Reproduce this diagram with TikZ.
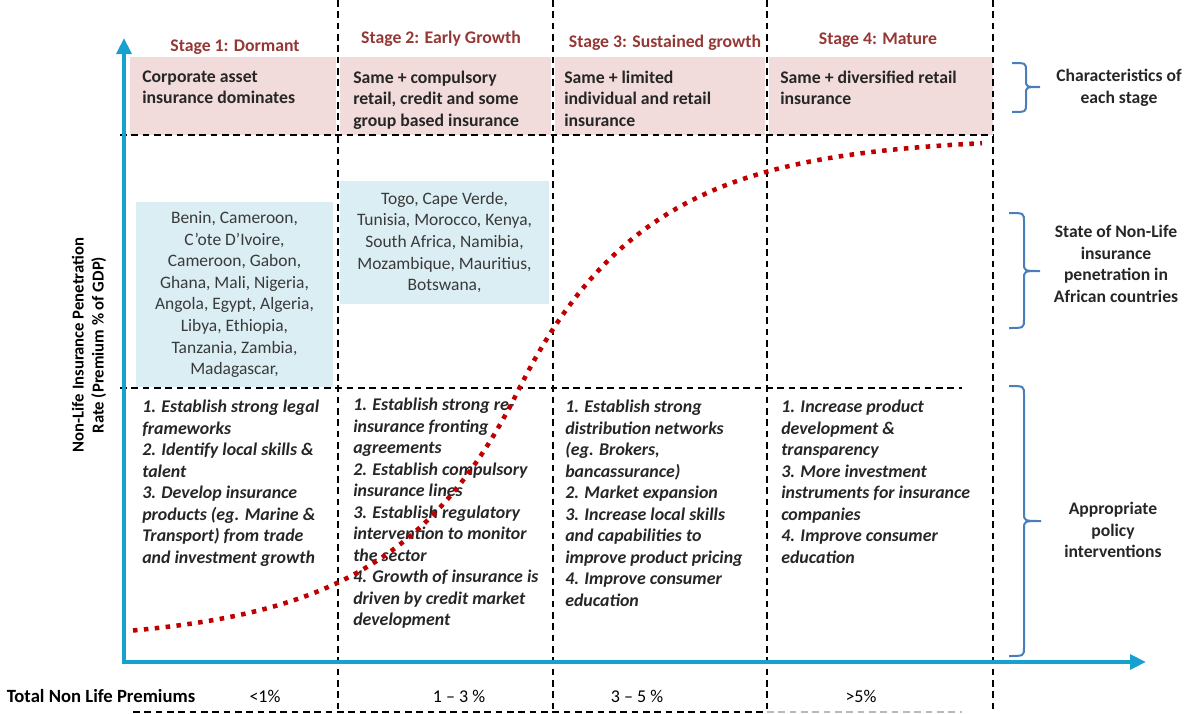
\documentclass[tikz,border=0pt]{standalone}
\usepackage{fontspec}
\setmainfont{Carlito}
\usetikzlibrary{arrows.meta}

\definecolor{rougetitre}{HTML}{953735}
\definecolor{rose}{HTML}{F2DCDB}
\definecolor{bleuclair}{HTML}{DBEEF4}
\definecolor{bleuaxe}{HTML}{17A1CE}
\definecolor{bleuaccolade}{HTML}{4A7EBB}
\definecolor{rougecourbe}{HTML}{C00000}
\definecolor{grisfonce}{HTML}{262626}
\definecolor{grismoyen}{HTML}{3A3A3A}

\begin{document}
\begin{tikzpicture}[x=0.75pt,y=-0.75pt]
		\tikzstyle{titre_etape}=[anchor=base, inner sep=0, font=\fontsize{13.3}{16}\selectfont\bfseries, text=rougetitre]
		\tikzstyle{texte_haut}=[anchor=north west, inner sep=0, align=left, font=\fontsize{13.3}{16.1}\selectfont\bfseries, text=grisfonce]
		\tikzstyle{case_bleue}=[fill=bleuclair, inner sep=0, align=center, font=\fontsize{13.1}{16.2}\selectfont, text=grismoyen]
		\tikzstyle{texte_action}=[anchor=north west, inner sep=0, align=left, font=\fontsize{13.4}{16.1}\selectfont\bfseries\itshape, text=grisfonce]
		\tikzstyle{texte_droite}=[align=center, inner sep=0, font=\fontsize{13.2}{16.2}\selectfont\bfseries, text=grisfonce]
		\tikzstyle{texte_bas}=[anchor=base, inner sep=0, font=\fontsize{13.5}{16}\selectfont, text=black]
		\tikzstyle{pointille}=[black, line width=1.2pt, dash pattern=on 5pt off 3.5pt]
		\tikzstyle{axe}=[bleuaxe, line width=3pt, arrows={Triangle[length=12pt,width=11pt]-Triangle[length=12pt,width=11pt]}]
		\tikzstyle{courbe}=[rougecourbe, line width=3.4pt, dash pattern=on 3.4pt off 4.8pt]
		\tikzstyle{accolade}=[bleuaccolade, line width=1.5pt]
		\useasboundingbox (0,0) rectangle (1186,714);

		% bandeau rose des caracteristiques
		\fill[rose] (130,57) rectangle (336,135);
		\fill[rose] (340,57) rectangle (551,135);
		\fill[rose] (555,57) rectangle (765,135);
		\fill[rose] (769,57) rectangle (993,135);

		% pays par etape
		\node[case_bleue, minimum width=147.75pt, minimum height=138.75pt] (pays1) at (234.5,294.5) {Benin, Cameroon,\\C’ote D’Ivoire,\\Cameroon, Gabon,\\Ghana, Mali, Nigeria,\\Angola, Egypt, Algeria,\\Libya, Ethiopia,\\Tanzania, Zambia,\\Madagascar,};
		\node[case_bleue, minimum width=156.75pt, minimum height=92.25pt] (pays2) at (444.5,242.5) {Togo, Cape Verde,\\Tunisia, Morocco, Kenya,\\South Africa, Namibia,\\Mozambique, Mauritius,\\Botswana,};

		% grille en pointilles
		\draw[pointille] (338,0) -- (338,714);
		\draw[pointille] (553,0) -- (553,714);
		\draw[pointille] (767,0) -- (767,714);
		\draw[pointille] (993,0) -- (993,714);
		\draw[pointille] (120,135) -- (993,135);
		\draw[pointille] (120,388) -- (962,388);
		\draw[pointille] (133,712) -- (767,712);
		\draw[pointille, gray!55] (767,712) -- (962,712);

		\node[titre_etape] (etape1) at (235,51) {Stage 1: Dormant};
		\node[titre_etape] (etape2) at (441,43) {Stage 2: Early Growth};
		\node[titre_etape] (etape3) at (665,47) {Stage 3: Sustained growth};
		\node[titre_etape] (etape4) at (878,44) {Stage 4: Mature};

		\node[texte_haut] (carac1) at (142,70.5) {Corporate asset\\insurance dominates};
		\node[texte_haut] (carac2) at (353,70.5) {Same + compulsory\\retail, credit and some\\group based insurance};
		\node[texte_haut] (carac3) at (564,70.5) {Same + limited\\individual and retail\\insurance};
		\node[texte_haut] (carac4) at (780,70.5) {Same + diversified retail\\insurance};

		\node[texte_action] (action1) at (142,400) {1. Establish strong legal\\frameworks\\2. Identify local skills \&\\talent\\3. Develop insurance\\products (eg. Marine \&\\Transport) from trade\\and investment growth};
		\node[texte_action] (action2) at (353,398) {1. Establish strong re-\\insurance fronting\\agreements\\2. Establish compulsory\\insurance lines\\3. Establish regulatory\\intervention to monitor\\the sector\\4. Growth of insurance is\\driven by credit market\\development};
		\node[texte_action] (action3) at (565,400) {1. Establish strong\\distribution networks\\(eg. Brokers,\\bancassurance)\\2. Market expansion\\3. Increase local skills\\and capabilities to\\improve product pricing\\4. Improve consumer\\education};
		\node[texte_action] (action4) at (781,400) {1. Increase product\\development \&\\transparency\\3. More investment\\instruments for insurance\\companies\\4. Improve consumer\\education};

		% axes
		\draw[axe] (124,38) -- (124,662) -- (1146,662);
		\node[rotate=90, align=center, inner sep=0, font=\fontsize{12.5}{15}\selectfont\bfseries] (titre_axe) at (89,345) {Non-Life Insurance Penetration\\Rate (Premium \% of GDP)};

		% courbe en S
		\draw[courbe] plot[domain=133:520, samples=60] (\x, {387+255*(1-exp((\x-520)/125))}) -- plot[domain=520:982, samples=60] (\x, {387-250*(1-exp(-(\x-520)/125))});

		% accolades a droite
		\draw[accolade] (1012,63) .. controls (1026,63) .. (1026,71) -- (1026,80) .. controls (1026,87) .. (1040,87) .. controls (1026,87) .. (1026,94) -- (1026,104) .. controls (1026,112) .. (1012,112);
		\draw[accolade] (1009,213) .. controls (1024,213) .. (1024,222) -- (1024,263) .. controls (1024,271) .. (1040,271) .. controls (1024,271) .. (1024,279) -- (1024,319) .. controls (1024,328) .. (1009,328);
		\draw[accolade] (1009,386) .. controls (1024,386) .. (1024,395) -- (1024,513) .. controls (1024,521) .. (1041,521) .. controls (1024,521) .. (1024,529) -- (1024,647) .. controls (1024,656) .. (1009,656);
		\node[texte_droite] (resume1) at (1119,88) {Characteristics of\\each stage};
		\node[texte_droite] (resume2) at (1116,264) {State of Non-Life\\insurance\\penetration in\\African countries};
		\node[texte_droite] (resume3) at (1113,530) {Appropriate\\policy\\interventions};

		% ligne du bas
		\node[texte_bas, font=\fontsize{14}{16}\selectfont\bfseries] (total) at (101,702) {Total Non Life Premiums};
		\node[texte_bas] (tranche1) at (265,702) {<1\%};
		\node[texte_bas] (tranche2) at (459,702) {1 -- 3 \%};
		\node[texte_bas] (tranche3) at (637,702) {3 -- 5 \%};
		\node[texte_bas] (tranche4) at (861,702) {>5\%};
	\end{tikzpicture}
\end{document}
